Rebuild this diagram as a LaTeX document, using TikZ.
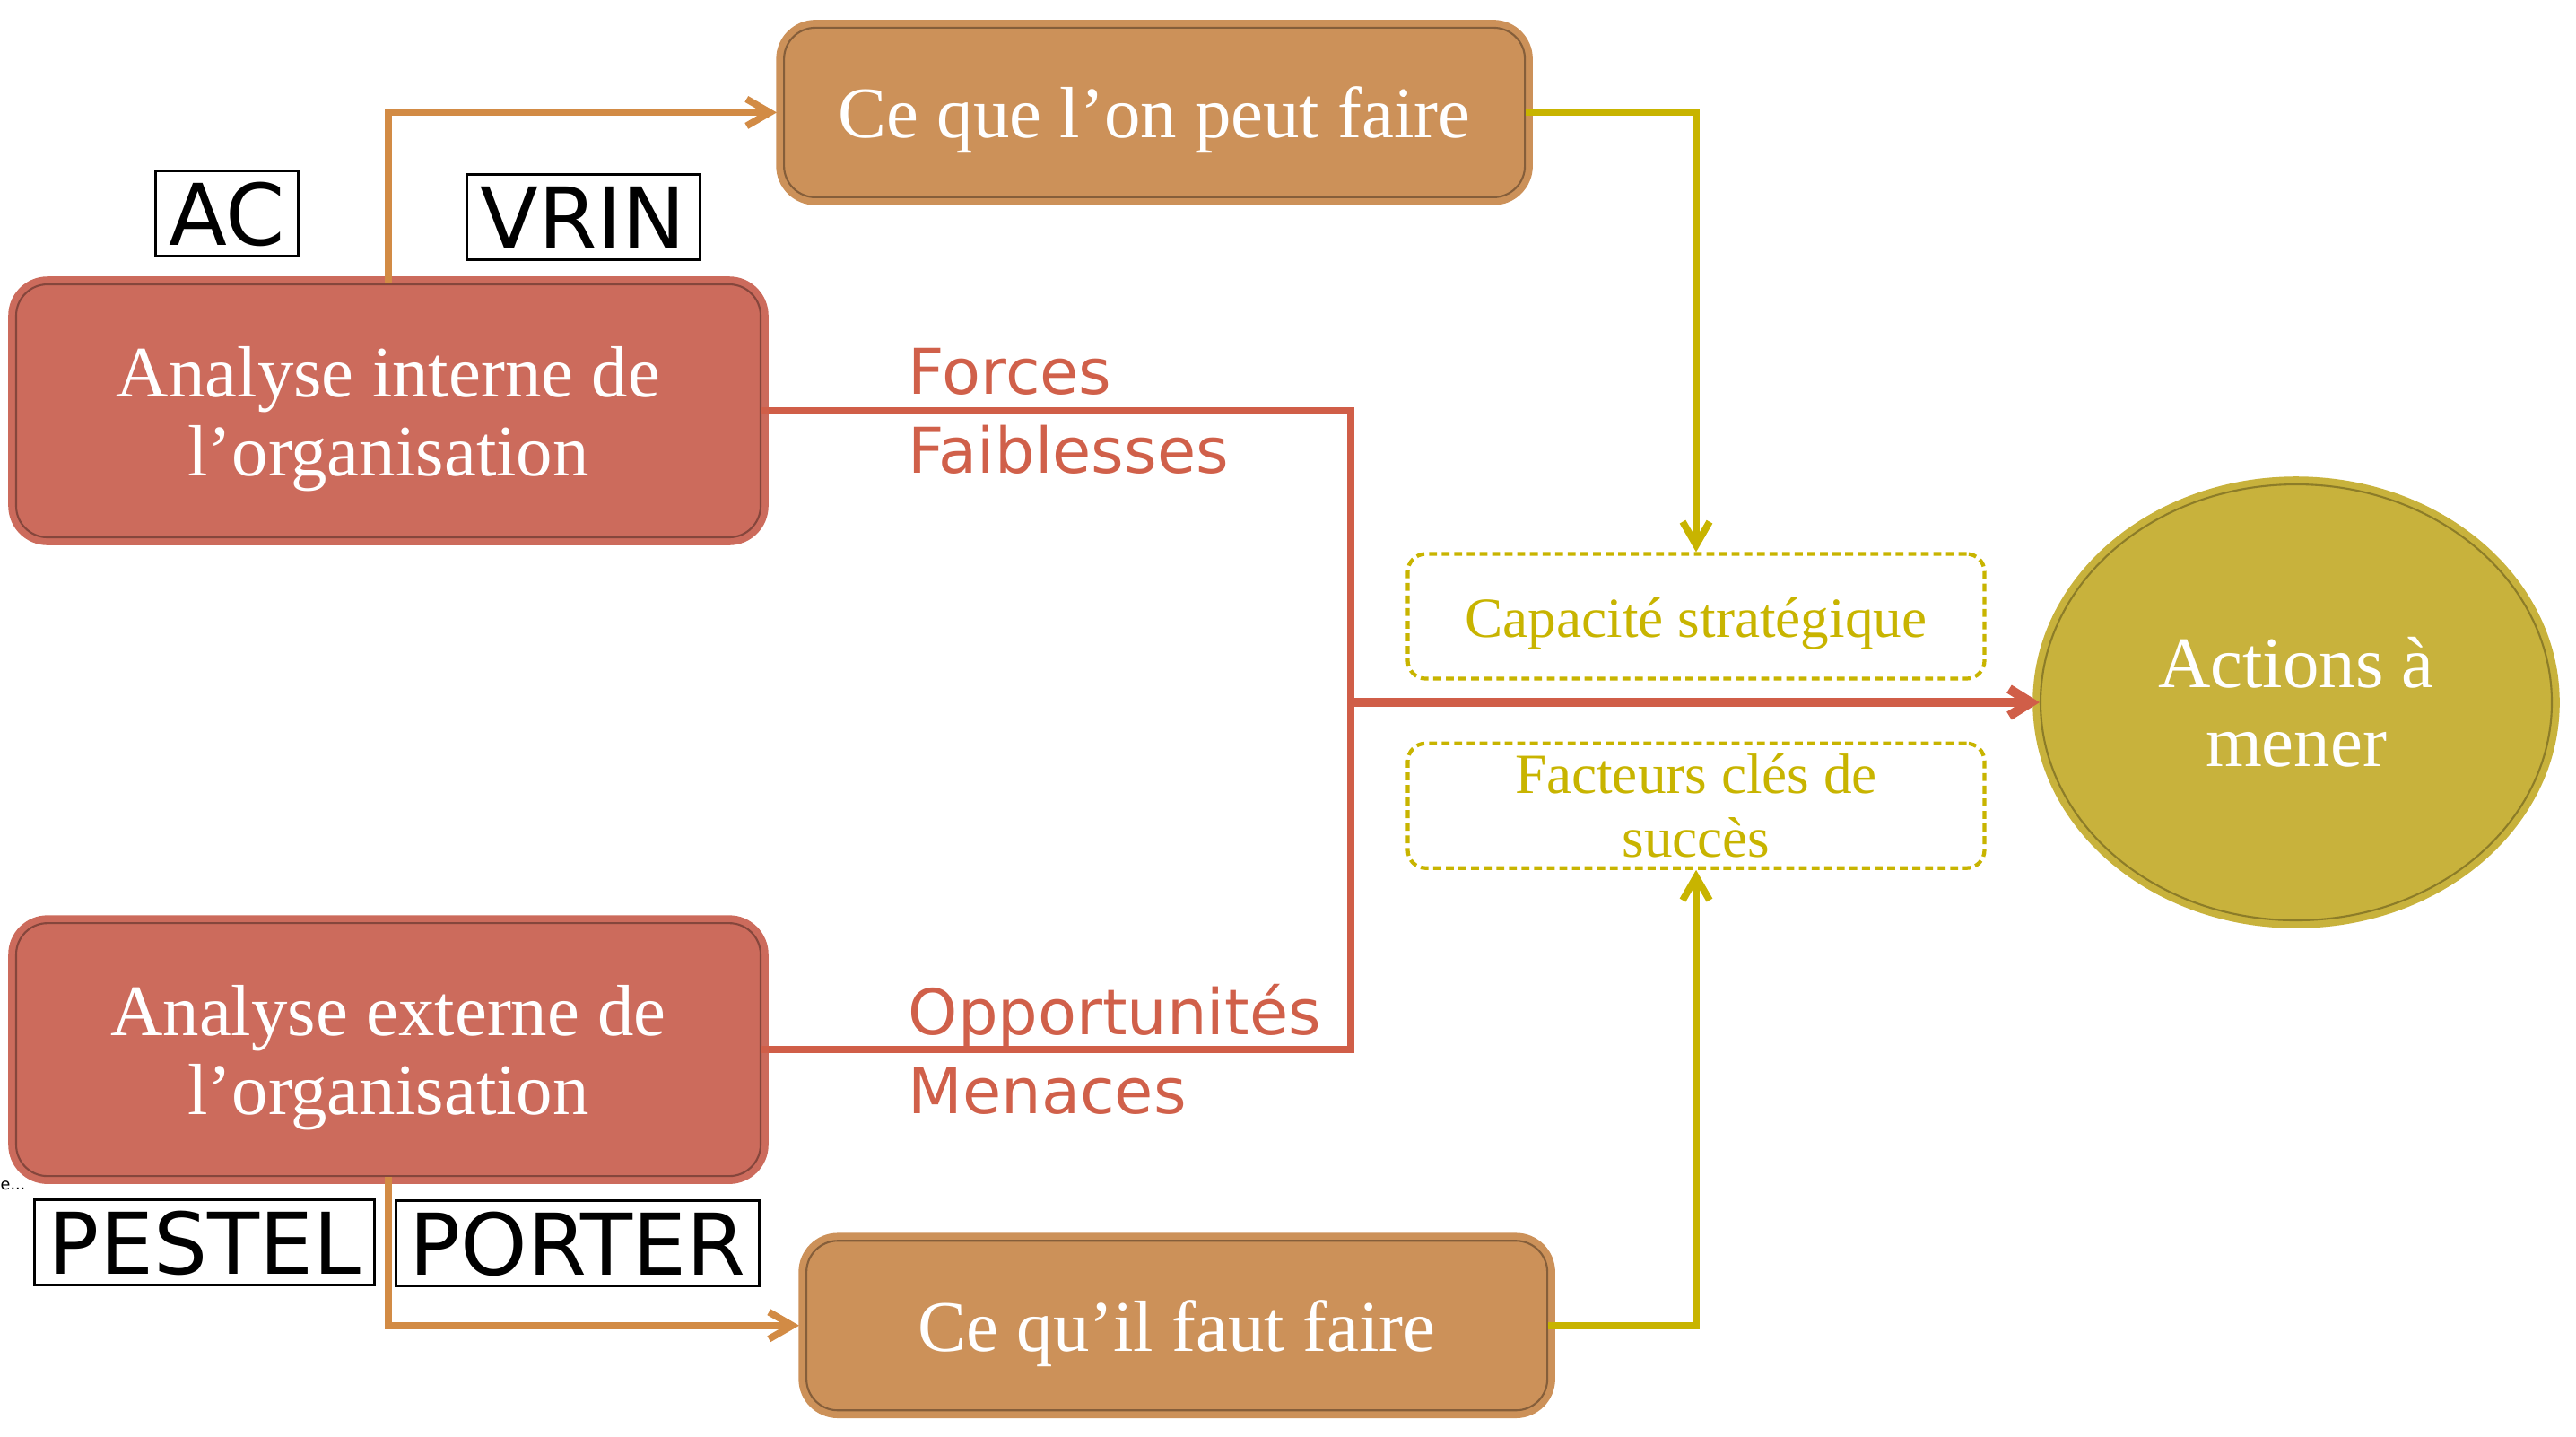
\documentclass[tikz,border=0pt]{standalone}
\usepackage{fontspec}
\setmainfont{Liberation Serif}
\newfontfamily\sansdv{DejaVu Sans}
\usepackage{xcolor}
\usepackage{tikz}
\usetikzlibrary{shapes, arrows.meta, positioning, calc}

\definecolor{rouge}{HTML}{CC6B5C}
\definecolor{rougeligne}{HTML}{D05E48}
\definecolor{rougetexte}{HTML}{D0604A}
\definecolor{orangebox}{HTML}{CC9159}
\definecolor{orangeligne}{HTML}{D28B45}
\definecolor{dore}{HTML}{C8B400}
\definecolor{actionfond}{HTML}{C8B23C}
\definecolor{actionbord}{HTML}{8C7C28}

\begin{document}
\begin{tikzpicture}[
        analyse/.style={rectangle, draw=rouge!65!black, line width=0.6pt, fill=rouge, preaction={draw=rouge, line width=5pt}, rounded corners=0.35cm, text=white, align=center, minimum width=8.3cm, minimum height=2.82cm, font=\fontsize{23}{25}\selectfont},
        faire/.style={rectangle, draw=orangebox!65!black, line width=0.6pt, fill=orangebox, preaction={draw=orangebox, line width=5pt}, rounded corners=0.35cm, text=white, align=center, minimum width=8.26cm, minimum height=1.89cm, font=\fontsize{23}{25}\selectfont, execute at begin node={\rule{0pt}{21pt}}},
        cle/.style={rectangle, draw=dore, dash pattern=on 2.5pt off 1.5pt, line width=1.2pt, rounded corners=0.2cm, text=dore, align=center, minimum width=6.43cm, minimum height=1.39cm, font=\fontsize{18}{20}\selectfont},
        resultat/.style={ellipse, draw=actionbord, line width=0.6pt, fill=actionfond, preaction={draw=actionfond, line width=5pt}, text=white, align=center, minimum width=5.7cm, minimum height=4.86cm, font=\fontsize{23}{25}\selectfont},
        etiquette/.style={rectangle, draw=black, line width=0.8pt, fill=white, inner xsep=0.15cm, minimum height=0.95cm, text height=20pt, text depth=0pt, font=\sansdv\fontsize{27}{30}\selectfont},
        constat/.style={text=rougetexte, align=left, inner sep=0pt, font=\sansdv\fontsize{20}{25}\selectfont},
        lienorange/.style={draw=orangeligne, line width=2.2pt, -{Straight Barb[length=2.6mm, width=3mm]}, shorten >=2pt},
        liendore/.style={draw=dore, line width=2.2pt, -{Straight Barb[length=2.6mm, width=3mm]}},
        lienrouge/.style={draw=rougeligne, line width=2.2pt},
        flecherouge/.style={draw=rougeligne, line width=3pt, -{Straight Barb[length=2.4mm, width=3mm]}}
    ]
    \useasboundingbox (0,0) rectangle (28.72,-16.01);

    \node [analyse] (interne) at (4.33,-4.58) {\rule{0pt}{21pt}Analyse interne de\\l’organisation};
    \node [analyse, below=4.28cm of interne] (externe) {\rule{0pt}{21pt}Analyse externe de\\l’organisation};

    \node [faire, above right=0.95cm and 0.24cm of interne] (peut) {Ce que l’on peut faire};
    \node [faire, below right=0.70cm and 0.49cm of externe] (faut) {Ce qu’il faut faire};

    \node [etiquette, above=0.29cm of interne.north, xshift=-1.80cm] (ac) {AC};
    \node [etiquette, above=0.25cm of interne.north, xshift=2.17cm] (vrin) {VRIN};
    \node [etiquette, below=0.24cm of externe.south, xshift=-2.05cm] (pestel) {PESTEL};
    \node [etiquette, below=0.25cm of externe.south, xshift=2.11cm] (porter) {PORTER};
    \node [anchor=west, inner sep=0pt, font=\sansdv\fontsize{5}{6}\selectfont] (coupe) at (0,-13.22) {e...};

    \node [constat, right=1.63cm of interne] (forces) {Forces\\Faiblesses};
    \node [constat, right=1.63cm of externe] (menaces) {Opportunités\\Menaces};

    \node [cle] (capacite) at (18.91,-6.87) {\rule{0pt}{17pt}Capacité stratégique};
    \node [cle, below=0.68cm of capacite] (facteurs) {Facteurs clés de\\succès};
    \node [resultat] (actions) at (25.60,-7.83) {Actions à\\mener};
    \coordinate (jonction) at (15.06,-7.83);

    \path [lienorange] (interne.north) |- (peut.west);
    \path [lienorange] (externe.south) |- (faut.west);
    \path [liendore] (peut.east) -| (capacite.north);
    \path [liendore] (faut.east) -| (facteurs.south);
    \path [lienrouge] (interne.east) -| (jonction);
    \path [lienrouge] (externe.east) -| (jonction);
    \path [flecherouge] (jonction) -- (actions.west);

\end{tikzpicture}
\end{document}
